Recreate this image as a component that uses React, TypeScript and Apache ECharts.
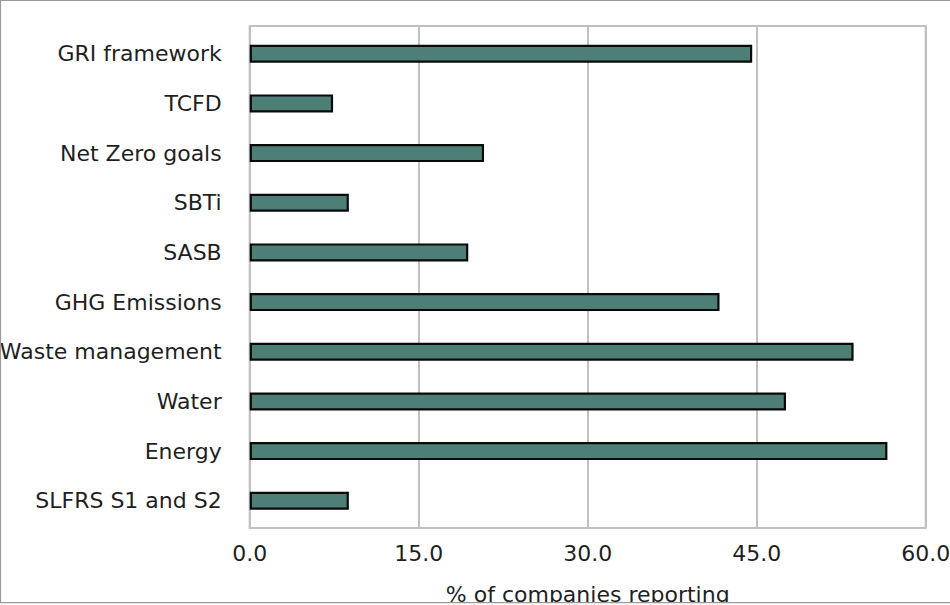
import React, { useEffect, useRef } from "react";
import * as echarts from "echarts";

const categories = [
  "GRI framework",
  "TCFD",
  "Net Zero goals",
  "SBTi",
  "SASB",
  "GHG Emissions",
  "Waste management",
  "Water",
  "Energy",
  "SLFRS S1 and S2",
];
const values = [44.6, 7.4, 20.8, 8.8, 19.4, 41.7, 53.6, 47.6, 56.6, 8.8];
const xTicks = { min: 0, max: 60, interval: 15 };
const axisTitle = "% of companies reporting";

const FONT = "DejaVu Sans";
const TEXT = "#1f1f1f";
const GRID_GRAY = "#c0c0c0";

export default function App() {
  const ref = useRef<HTMLDivElement>(null);
  useEffect(() => {
    if (!ref.current) return;
    const chart = echarts.init(ref.current, undefined, { renderer: "svg" });
    chart.setOption({
      animation: false,
      backgroundColor: "#ffffff",
      grid: [
        {
          left: 249.7,
          right: 24.3,
          top: 26,
          bottom: 77,
          containLabel: false,
          outerBoundsMode: "none",
          show: true,
          borderColor: GRID_GRAY,
          borderWidth: 2,
          backgroundColor: "transparent",
        },
        {
          left: 249.7,
          right: 24.3,
          top: 28.9,
          bottom: 79.4,
          containLabel: false,
          outerBoundsMode: "none",
        },
      ],
      xAxis: [
        {
          gridIndex: 0,
          type: "value",
          min: xTicks.min,
          max: xTicks.max,
          interval: xTicks.interval,
          axisLine: { show: false },
          axisTick: { show: false },
          splitLine: { show: true, lineStyle: { color: GRID_GRAY, width: 2 } },
          axisLabel: {
            formatter: (v: number) => v.toFixed(1),
            fontFamily: FONT,
            fontSize: 22,
            color: TEXT,
            margin: 14,
          },
          name: axisTitle,
          nameLocation: "middle",
          nameGap: 55,
          nameTextStyle: { fontFamily: FONT, fontSize: 22, color: TEXT },
        },
        {
          gridIndex: 1,
          type: "value",
          min: xTicks.min,
          max: xTicks.max,
          show: false,
        },
      ],
      yAxis: [
        { gridIndex: 0, type: "value", show: false, splitLine: { show: false } },
        {
          gridIndex: 1,
          type: "category",
          inverse: true,
          data: categories,
          axisLine: { show: false },
          axisTick: { show: false },
          splitLine: { show: false },
          axisLabel: {
            fontFamily: FONT,
            fontSize: 22,
            color: TEXT,
            margin: 28,
          },
        },
      ],
      series: [
        {
          type: "bar",
          xAxisIndex: 1,
          yAxisIndex: 1,
          data: values,
          barWidth: 18,
          itemStyle: {
            color: "#4e7f76",
            borderColor: "#0a0a0a",
            borderWidth: 2.2,
          },
        },
      ],
      graphic: [
        {
          type: "rect",
          z: 100,
          silent: true,
          shape: { x: 0, y: 603, width: 950, height: 4 },
          style: { fill: "#ffffff" },
        },
        {
          type: "rect",
          z: 101,
          silent: true,
          shape: { x: 0.5, y: 0.5, width: 980, height: 602.2 },
          style: { fill: "none", stroke: "#9a9a9a", lineWidth: 1.2 },
        },
      ],
    });
    return () => chart.dispose();
  }, []);
  return (
    <div
      ref={ref}
      style={{ position: "absolute", left: 0, top: 0, width: 950, height: 605 }}
    />
  );
}
